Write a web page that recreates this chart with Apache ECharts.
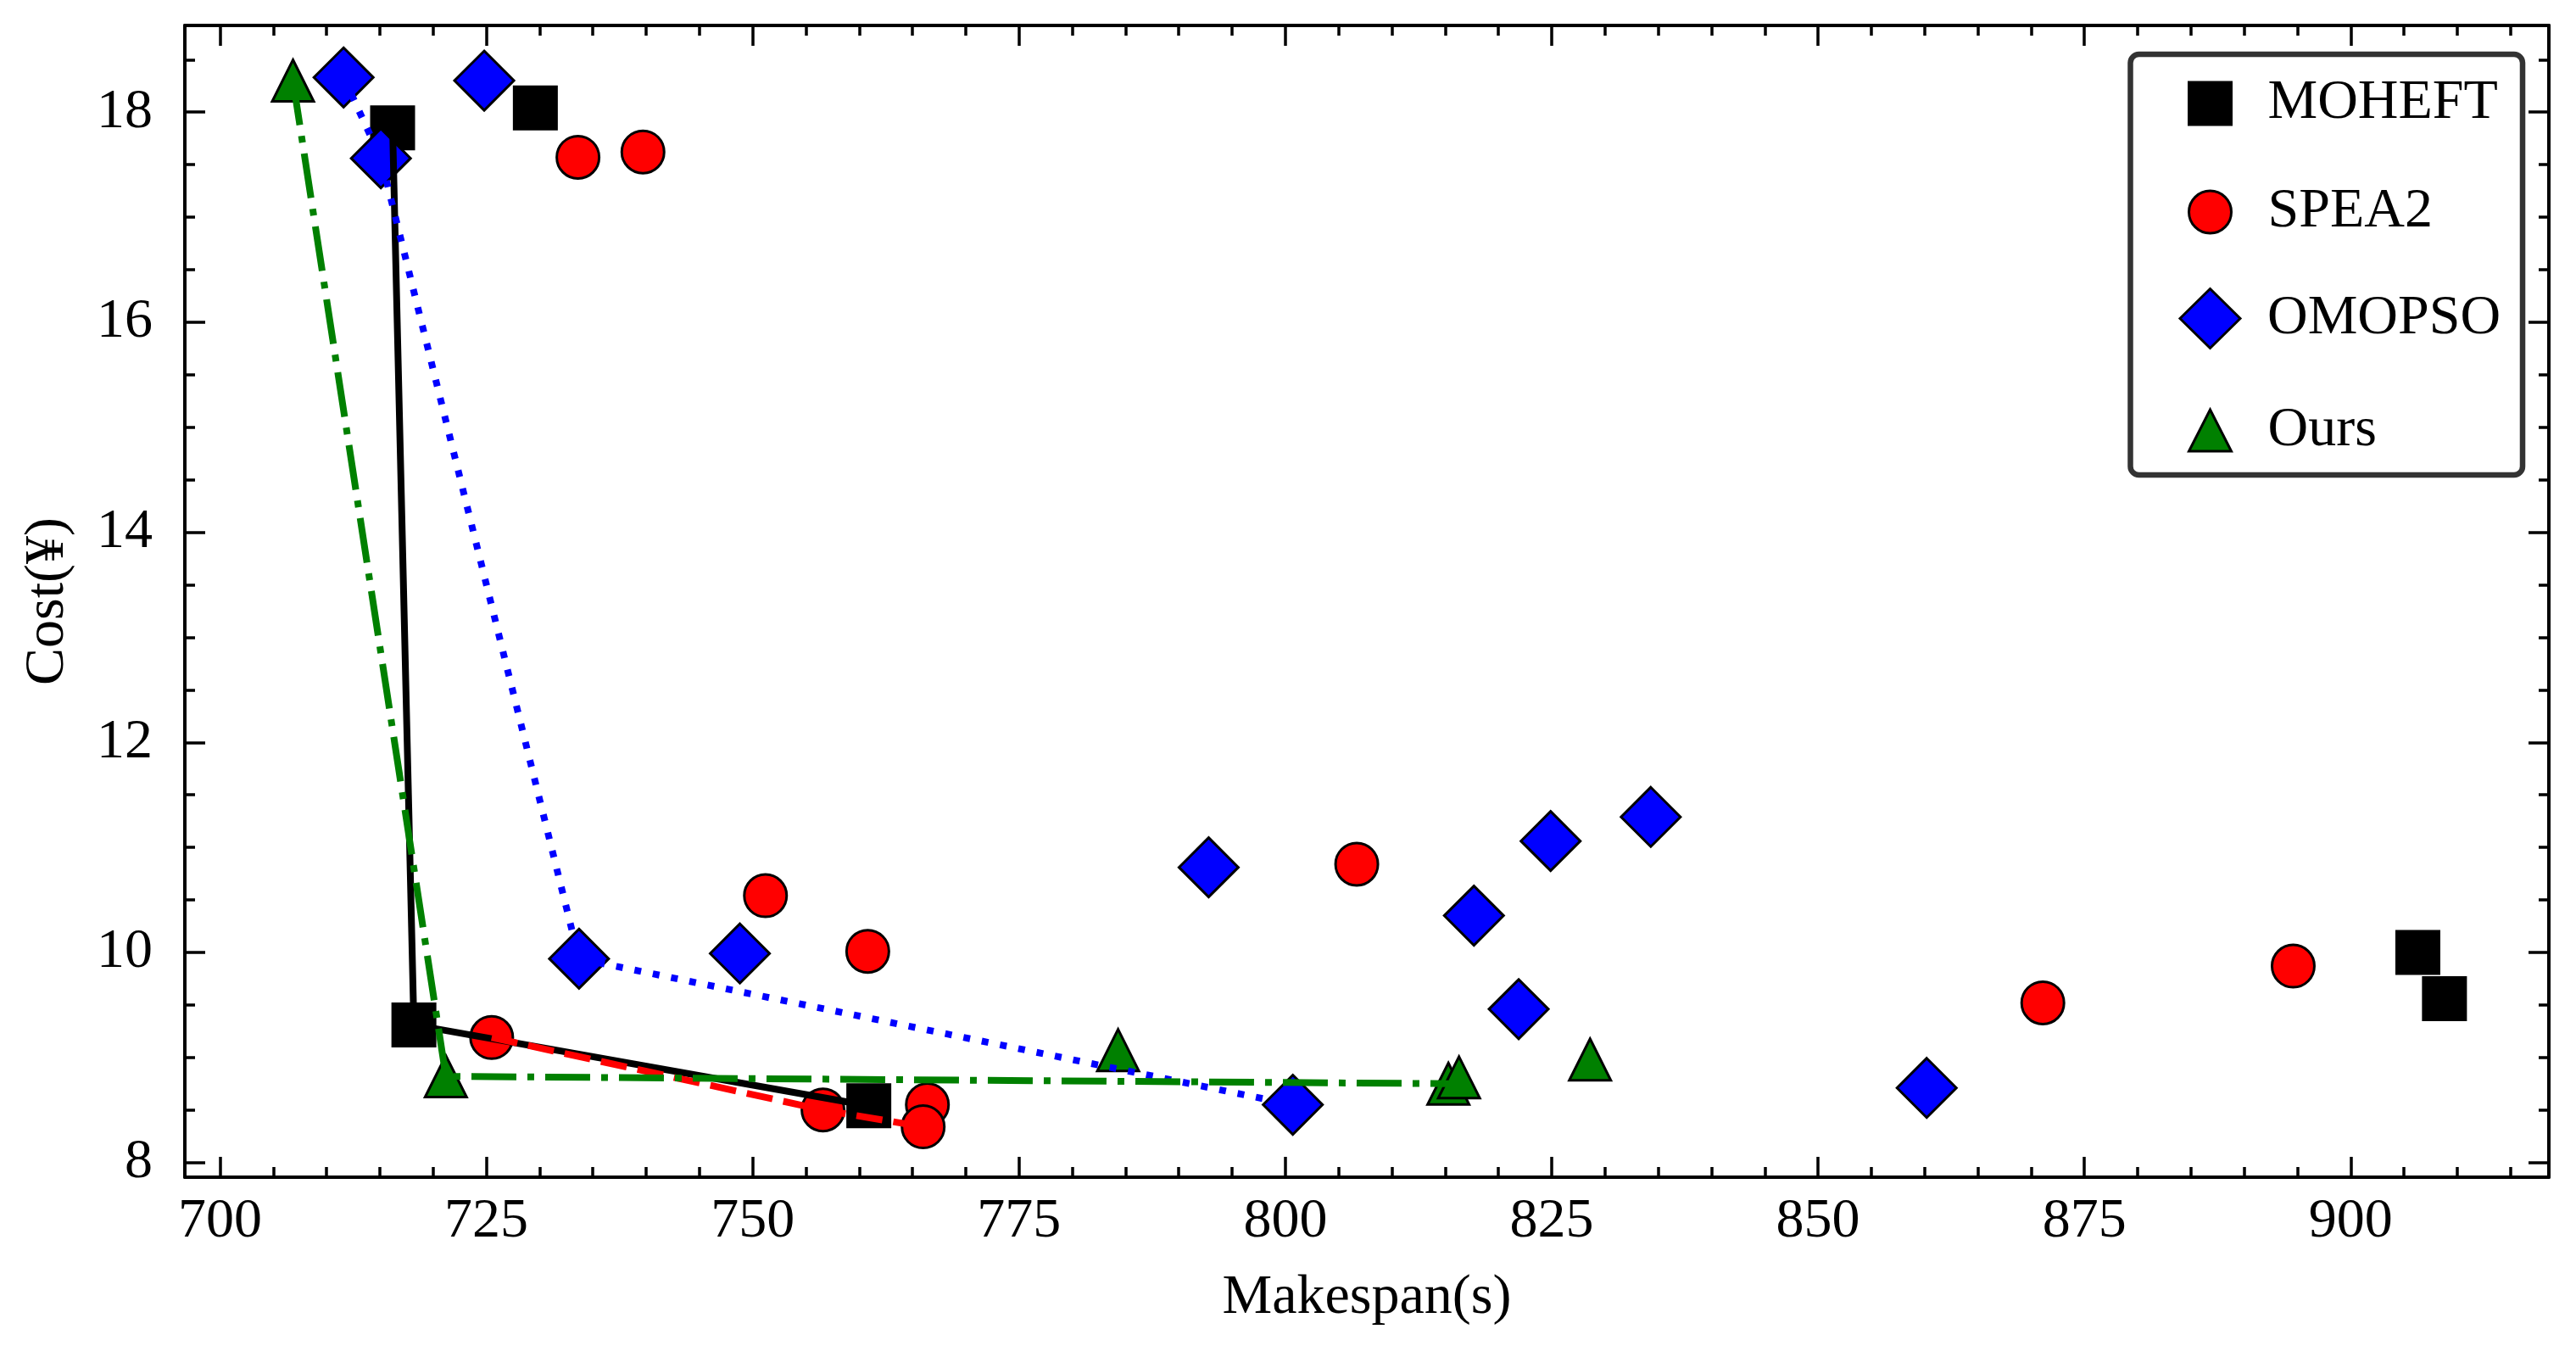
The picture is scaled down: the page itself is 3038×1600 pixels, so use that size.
<!DOCTYPE html>
<html>
<head>
<meta charset="utf-8">
<script src="https://cdn.jsdelivr.net/npm/echarts@6/dist/echarts.min.js"></script>
<style>
  html, body { margin: 0; padding: 0; background: #fff; }
  #chart { width: 3038px; height: 1600px; }
</style>
</head>
<body>
<div id="chart"></div>
<script>
// MOHEFT
const moheftMakespan = [716.2, 729.6, 718.2, 760.9, 906.3, 908.8]
const moheftCost = [17.85, 18.04, 9.31, 8.54, 10.00, 9.56]
// SPEA2
const spea2Makespan = [733.6, 739.7, 725.5, 751.2, 760.8, 756.6, 766.4, 766.0, 806.7, 871.1, 894.6]
const spea2Cost = [17.57, 17.62, 9.19, 10.54, 10.01, 8.50, 8.55, 8.34, 10.84, 9.52, 9.87]
// OMOPSO
const omopsoMakespan = [711.6, 724.8, 715.1, 733.7, 748.8, 792.8, 800.7, 817.7, 821.9, 824.9, 834.3, 860.2]
const omopsoCost = [18.33, 18.30, 17.56, 9.94, 9.99, 10.81, 8.55, 10.35, 9.46, 11.06, 11.29, 8.71]
// Ours
const oursMakespan = [706.85, 721.2, 784.3, 815.3, 816.3, 828.6]
const oursCost = [18.30, 8.82, 9.07, 8.75, 8.81, 8.98]

const xTicks = [700, 725, 750, 775, 800, 825, 850, 875, 900]
const yTicks = [8, 10, 12, 14, 16, 18]

const xMin = 696.7, xMax = 918.6
const yMin = 7.86, yMax = 18.825
const font = 'Liberation Serif'

let xMinor = []
for (let v = 700; v <= xMax; v += 5) if (v % 25 !== 0) xMinor.push(v)
let yMinor = []
for (let v = 8; v <= yMax; v += 0.5) if (v % 2 !== 0) yMinor.push(v)

function zip (xs, ys) {
  return xs.map((x, i) => [x, ys[i]])
}

// non-dominated points (both objectives minimised), sorted by makespan
function front (xs, ys) {
  let pts = zip(xs, ys).sort((a, b) => a[0] - b[0])
  let out = []
  let best = Infinity
  pts.forEach(p => {
    if (p[1] < best) {
      out.push(p)
      best = p[1]
    }
  })
  return out
}

function xAxis (pos, ticks, len, main) {
  return {
    type: 'value', position: pos, min: xMin, max: xMax,
    splitLine: { show: false },
    axisLine: { show: main, onZero: false, lineStyle: { color: '#000', width: 4 } },
    axisTick: { show: true, inside: true, length: len, customValues: ticks, lineStyle: { color: '#000', width: 3.5 } },
    axisLabel: { show: false }
  }
}
function yAxis (pos, ticks, len, main) {
  return {
    type: 'value', position: pos, min: yMin, max: yMax,
    splitLine: { show: false },
    axisLine: { show: main, onZero: false, lineStyle: { color: '#000', width: 4 } },
    axisTick: { show: true, inside: true, length: len, customValues: ticks, lineStyle: { color: '#000', width: 3.5 } },
    axisLabel: { show: false }
  }
}

let xBottom = xAxis('bottom', xTicks, 24, true)
xBottom.axisLabel = {
  show: true, customValues: xTicks, margin: 20,
  fontFamily: font, fontSize: 66, color: '#000'
}
xBottom.name = 'Makespan(s)'
xBottom.nameLocation = 'middle'
xBottom.nameGap = 110
xBottom.nameTextStyle = { fontFamily: font, fontSize: 66, color: '#000' }

let yLeft = yAxis('left', yTicks, 24, true)
yLeft.axisLabel = {
  show: true, customValues: yTicks, margin: 38,
  fontFamily: font, fontSize: 66, color: '#000'
}
yLeft.name = 'Cost(¥)'
yLeft.nameLocation = 'middle'
yLeft.nameGap = 128
yLeft.nameTextStyle = { fontFamily: font, fontSize: 66, color: '#000' }

function scatter (name, symbol, size, color, xs, ys) {
  return {
    name: name, type: 'scatter', symbol: symbol, symbolSize: size,
    itemStyle: { color: color, borderColor: '#000', borderWidth: 3, opacity: 1 },
    data: zip(xs, ys), z: 2
  }
}
function frontLine (name, color, dash, xs, ys) {
  return {
    name: name, type: 'line', symbol: 'none', silent: true,
    lineStyle: { color: color, width: 8, type: dash },
    data: front(xs, ys), z: 3
  }
}

function legendItem (name, icon, w, h, color, top, shift, pad) {
  return {
    data: [name], icon: icon, left: 2605 - w / 2, top: top - h / 2 - shift,
    itemWidth: w, itemHeight: h, padding: 0, selectedMode: false,
    itemStyle: { color: color, borderColor: '#000', borderWidth: 3 },
    textStyle: { fontFamily: font, fontSize: 66, color: '#000', padding: [0, 0, 0, pad] },
    z: 5
  }
}

let chart = echarts.init(document.getElementById('chart'), null, { renderer: 'canvas' })
chart.setOption({
  animation: false,
  backgroundColor: '#fff',
  grid: { left: 218, top: 30, width: 2788, height: 1358, containLabel: false },
  xAxis: [xBottom, xAxis('bottom', xMinor, 12, false), xAxis('top', xTicks, 24, true), xAxis('top', xMinor, 12, false)],
  yAxis: [yLeft, yAxis('left', yMinor, 12, false), yAxis('right', yTicks, 24, true), yAxis('right', yMinor, 12, false)],
  legend: [
    legendItem('MOHEFT', 'rect', 50, 50, '#000', 119, 5, 38),
    legendItem('SPEA2', 'circle', 50, 50, '#ff0000', 247, 5, 38),
    legendItem('OMOPSO', 'diamond', 71, 70, '#0000ff', 376, 2, 27),
    legendItem('Ours', 'triangle', 50, 49, '#008000', 504, 5, 38)
  ],
  graphic: [{
    type: 'rect', z: 4,
    shape: { x: 2512.5, y: 64, width: 462.5, height: 496, r: 10 },
    style: { fill: '#fff', stroke: '#333', lineWidth: 6.5 }
  }],
  series: [
    scatter('MOHEFT', 'rect', 50, '#000', moheftMakespan, moheftCost),
    scatter('SPEA2', 'circle', 50, '#ff0000', spea2Makespan, spea2Cost),
    scatter('OMOPSO', 'diamond', 70, '#0000ff', omopsoMakespan, omopsoCost),
    scatter('Ours', 'triangle', 49, '#008000', oursMakespan, oursCost),
    frontLine('MOHEFT front', '#000', 'solid', moheftMakespan, moheftCost),
    frontLine('SPEA2 front', '#ff0000', [31, 13], spea2Makespan, spea2Cost),
    frontLine('OMOPSO front', '#0000ff', [8, 14], omopsoMakespan, omopsoCost),
    frontLine('Ours front', '#008000', [53, 13, 8, 13], oursMakespan, oursCost)
  ]
})
</script>
</body>
</html>
